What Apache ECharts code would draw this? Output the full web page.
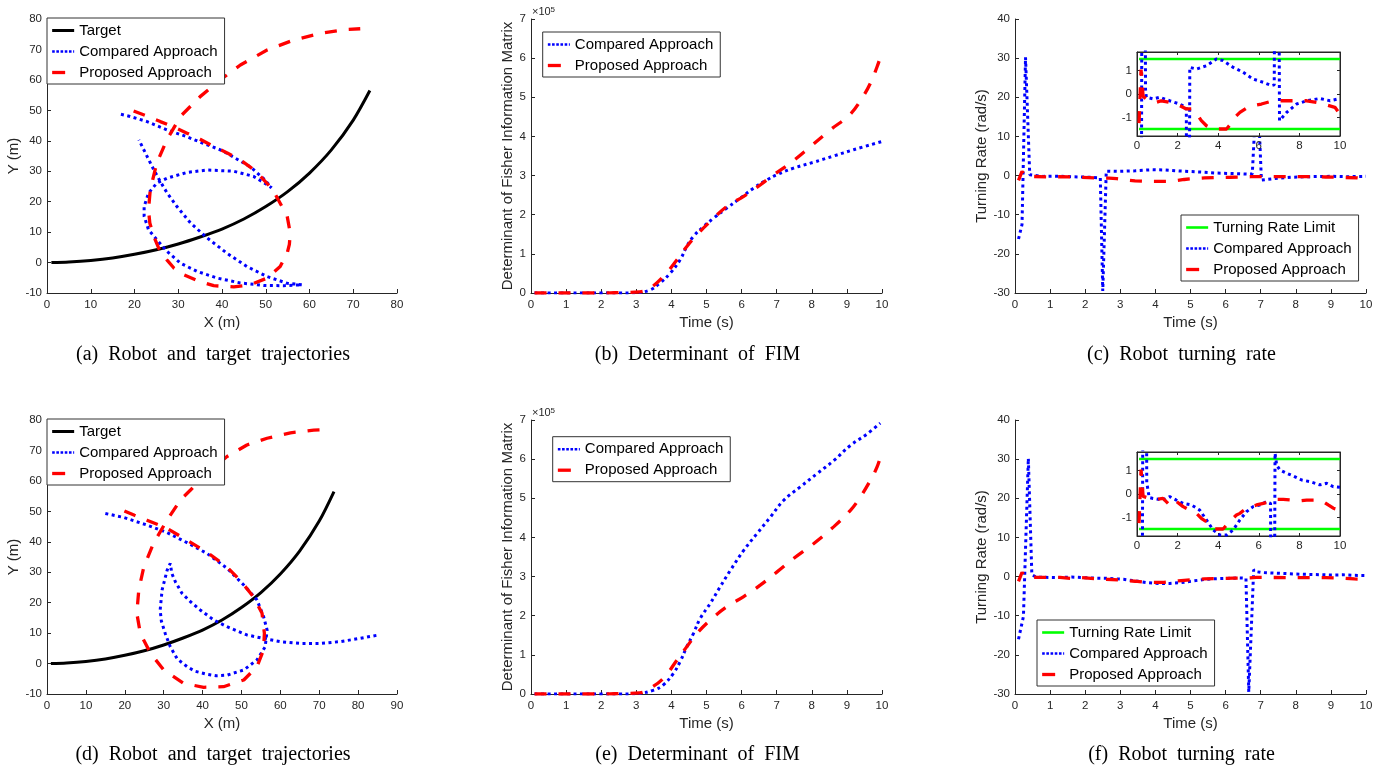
<!DOCTYPE html>
<html><head><meta charset="utf-8">
<script src="https://cdn.jsdelivr.net/npm/echarts@6/dist/echarts.min.js"></script>
<style>html,body{margin:0;padding:0;background:#fff}#c{width:1386px;height:767px}</style>
</head><body><div id="c"></div>
<script>
// ---------------- DATA ----------------
// Target trajectory (X m, Y m) - same in (a) and (d)
const targetXY = [[1,0],[5,0.2],[10,0.7],[15,1.5],[20,2.7],[25,4.2],[30,6.1],[35,8.4],[40,11],[45,14.3],[50,18.4],[55,23.3],[60,29.4],[65,37],[70,46.8],[73.8,56.5]];
// (a) trajectories
const comparedXY_A = [[16.9,48.7],[19,48],[22.9,46.3],[27.4,43.6],[32,41.3],[36,39],[40,36.8],[43,34.3],[46.5,31.4],[49.5,27.6],[51.3,24.6],
  [50.3,25.6],[47.2,28.3],[42.7,30],[36.6,30.4],[32,29.6],[27.4,27.7],[25.1,26.1],[23.2,22.8],[22.2,18.4],[22.2,15.2],[23.2,10.8],[25.1,7.5],[27.4,3.7],[30.5,-0.2],[34.3,-2.9],[38.9,-5.1],[44.2,-6.7],[49.5,-7.5],[54.1,-7.6],[58.3,-7.3],
  [54.9,-6.8],[50.3,-4.6],[45.7,-1.3],[41.1,3.1],[36.6,8.1],[32.8,13],[29.7,18.4],[27.4,23],[25.9,26.6],[24.4,30.5],[22.9,34.8],[21,40.3]];
const proposedXY_A = [[19.8,49.8],[22.5,48.3],[25.9,46.3],[29,44.5],[32,42.5],[35,40.5],[38.1,38.1],[41.2,36],[44.2,33.7],[46.7,31.1],[48.8,28.3],[50.5,25.7],[51.8,23.4],[53.7,18.4],[54.9,15.2],[55.6,9.7],[55.4,6],[54.9,3.1],[53.3,-1.3],[50.3,-5.1],[46.5,-7.3],[42.7,-8],[38.1,-7.6],[34.5,-6],[31.2,-4],[29,-1.8],[27.4,0.9],[25.6,4.5],[24.4,8.6],[23.5,13],[23.2,17.3],[23.6,23.9],[25.1,32.7],[27.4,40.3],[30.5,48],[35,54.5],[39.6,60],[44.2,64.9],[50.3,69.8],[56.4,73.1],[62.5,75.3],[68.6,76.6],[71.6,76.8]];
// (d) trajectories
const comparedXY_D = [[15,49.3],[19.7,48],[25.7,45.5],[30.9,43],[36,39.7],[41.1,36.2],[46.3,31.3],[50.6,25.8],[54,20.9],[55.7,15.4],[56.6,11],[56.1,5.5],[54,1.2],[50.6,-2.1],[46.3,-3.8],[43.5,-4],[41.1,-3.5],[38,-2.5],[36,-1],[33.5,1.5],[31.7,5.5],[30.4,9.9],[29.4,14],[29.1,17.6],[29.6,24.2],[30.9,30.7],[31.7,32.9],
  [32.1,29.6],[33,26.9],[34.7,23.1],[36.9,20.3],[39.4,17.6],[42.9,14.3],[46.3,12.1],[51.4,9.4],[56.6,8],[60,7.2],[65.1,6.6],[70.3,6.6],[75.4,7.2],[80.6,8.3],[85.3,9.4]];
const proposedXY_D = [[19.9,50.1],[22.5,48.7],[25.7,47.1],[30.9,44.4],[36,40.5],[41.1,36.6],[46.3,31.7],[49.7,27.3],[53.1,21.9],[55.3,16.5],[55.9,9.9],[55.7,4.5],[54,-1],[50.6,-5.4],[45.4,-7.6],[40.3,-7.8],[35.1,-6.5],[30,-2.1],[26.6,3.4],[24,9.9],[23.1,16.5],[23.6,24.2],[24.9,31.8],[27.4,39.5],[30.9,47.2],[34.3,53.7],[36.9,57],[41.1,62.5],[46.3,68],[51.4,71.8],[56.6,74],[62.6,75.8],[68.6,76.7],[72,76.9]];
// (b) FIM determinant (x1e5) vs time (s)
const comparedFIM_B = [[0.1,0],[0.5,0],[1,0],[1.5,0],[2,0],[2.5,0],[3,0.01],[3.4,0.08],[3.68,0.26],[3.97,0.51],[4.25,0.85],[4.44,1.19],[4.63,1.45],[4.92,1.7],[5.2,1.91],[5.58,2.17],[5.96,2.42],[6.34,2.68],[6.72,2.89],[7.0,3.02],[7.48,3.19],[8.05,3.34],[8.62,3.5],[9.19,3.66],[10,3.87]];
const proposedFIM_B = [[0.1,0],[0.5,0],[1,0],[1.5,0],[2,0],[2.5,0.01],[3.1,0.03],[3.4,0.13],[3.78,0.43],[4.16,0.85],[4.44,1.19],[4.73,1.49],[5.11,1.83],[5.58,2.21],[6.06,2.47],[6.53,2.76],[6.91,3.02],[7.39,3.32],[7.96,3.74],[8.53,4.17],[9.1,4.57],[9.48,5.05],[9.67,5.36],[9.86,5.78],[10,6.15]];
// (e) FIM determinant (x1e5)
const comparedFIM_E = [[0.1,0],[0.5,0],[1,0],[1.5,0],[2,0],[2.5,0],[3.02,0.01],[3.5,0.1],[3.78,0.24],[4.06,0.53],[4.25,0.83],[4.44,1.21],[4.63,1.55],[4.82,1.93],[5.11,2.32],[5.39,2.74],[5.68,3.16],[6.06,3.67],[6.44,4.1],[6.82,4.52],[7.2,4.95],[7.67,5.29],[8.15,5.63],[8.62,5.96],[9.1,6.35],[9.57,6.64],[9.95,6.92]];
const proposedFIM_E = [[0.1,0],[0.5,0],[1,0],[1.5,0],[2,0],[2.5,0.01],[3.1,0.03],[3.4,0.15],[3.78,0.41],[4.16,0.87],[4.44,1.21],[4.73,1.55],[5.11,1.89],[5.58,2.23],[6.06,2.49],[6.53,2.78],[7.01,3.12],[7.48,3.46],[8.05,3.84],[8.62,4.27],[9.1,4.69],[9.38,5.03],[9.67,5.46],[9.86,5.8],[10,6.18]];
// (c) turning rate (rad/s) vs time (s)
const comparedRate_C = [[0.1,-16.2],[0.2,-12.5],[0.3,30.2],[0.42,0.2],[0.46,-0.14],[0.79,-0.21],[1.12,-0.14],[1.61,-0.29],[2.1,-0.43],[2.43,-0.57],[2.5,-29.5],[2.6,1.14],[2.93,1.07],[3.42,1.21],[3.91,1.5],[4.24,1.43],[4.74,1.14],[5.23,0.93],[5.72,0.64],[6.22,0.5],[6.63,0.36],[6.76,0.39],[6.9,25],[7.02,-1.14],[7.37,-0.79],[7.86,-0.43],[8.36,-0.29],[9.01,-0.19],[9.51,-0.29],[10,-0.19]];
const proposedRate_C = [[0.1,-1.25],[0.2,1.05],[0.3,-0.1],[0.46,-0.21],[0.95,-0.36],[1.2,-0.29],[1.61,-0.36],[1.78,-0.43],[2.1,-0.5],[2.43,-0.64],[2.68,-0.64],[2.9,-0.8],[3.17,-1.14],[3.42,-1.36],[3.7,-1.48],[3.91,-1.5],[4.41,-1.5],[4.6,-1.3],[4.82,-1],[5.07,-0.79],[5.4,-0.6],[5.72,-0.5],[6.13,-0.43],[6.71,-0.29],[7.04,-0.29],[7.86,-0.29],[8.36,-0.29],[8.85,-0.36],[9.34,-0.47],[9.75,-0.57],[10,-0.86]];
// (f) turning rate
const comparedRate_F = [[0.1,-16],[0.24,-10.2],[0.38,30.2],[0.48,0.5],[0.6,-0.15],[0.79,-0.19],[1.28,-0.26],[1.61,-0.11],[1.94,-0.26],[2.27,-0.4],[2.68,-0.47],[3.09,-0.69],[3.42,-1.11],[3.75,-1.54],[4.08,-1.76],[4.41,-1.76],[4.74,-1.54],[5.07,-1.11],[5.39,-0.76],[5.72,-0.54],[6.05,-0.47],[6.38,-0.33],[6.58,-0.4],[6.66,-29.5],[6.8,1.75],[6.88,1.24],[7.04,1.03],[7.37,0.89],[7.7,0.77],[8.11,0.6],[8.52,0.53],[9.01,0.39],[9.34,0.46],[9.67,0.31],[10,0.29]];
const proposedRate_F = [[0.1,-1.25],[0.2,1.05],[0.3,-0.1],[0.62,-0.19],[0.95,-0.23],[1.28,-0.19],[1.61,-0.47],[1.86,-0.26],[2.27,-0.54],[2.6,-0.69],[2.93,-0.83],[3.17,-1.04],[3.42,-1.19],[3.75,-1.5],[4.24,-1.5],[4.65,-1.11],[4.9,-0.9],[5.07,-0.83],[5.39,-0.61],[5.89,-0.47],[6.22,-0.4],[6.63,-0.33],[6.88,-0.23],[7.2,-0.23],[8.03,-0.29],[8.36,-0.26],[8.85,-0.26],[9.18,-0.33],[9.42,-0.47],[9.67,-0.61],[10,-0.69]];
// turning rate limit
const limitTime = [0.1, 10];
const limitRate = 1.5;
// inset tick labels
const insetYTicks = [-1, 0, 1];
const captions = ['(a)  Robot  and  target  trajectories','(b)  Determinant  of  FIM','(c)  Robot  turning  rate','(d)  Robot  and  target  trajectories','(e)  Determinant  of  FIM','(f)  Robot  turning  rate'];

// ---------------- LAYOUT / STYLE ----------------
const AX = '#262626';
const FONT = 'Liberation Sans';
const G = [
  {left:47, top:19, width:350, height:274},
  {left:531, top:19, width:351, height:274},
  {left:1015, top:19, width:351, height:274},
  {left:47, top:420, width:350, height:274},
  {left:531, top:420, width:351, height:274},
  {left:1015, top:420, width:351, height:274},
  {left:1137, top:52, width:203, height:84},
  {left:1137, top:452, width:203, height:84}
];
const S_BLUE = {color:'#0000ff', width:3, type:[3,3.5], cap:'butt'};
const S_RED = {color:'#ff0000', width:3.3, type:[12,12], cap:'butt'};
const S_BLACK = {color:'#000000', width:3};
const S_GREEN = {color:'#00ff00', width:2.6};
const LEG_STYLE = {
  'Target':S_BLACK,
  'Compared Approach':{color:'#0000ff', width:2.6, type:[2.6,1.6]},
  'Proposed Approach':{color:'#ff0000', width:3.3, type:[13,20]},
  'Turning Rate Limit':S_GREEN
};

function mainX(gi, min, max, interval, name) {
  return {gridIndex:gi, type:'value', min, max, interval, name, nameLocation:'middle', nameGap:22,
    nameTextStyle:{color:AX, fontSize:15, fontFamily:FONT},
    axisLine:{show:true, onZero:false, lineStyle:{color:AX, width:1}},
    axisTick:{show:true, inside:true, length:4, lineStyle:{color:AX}},
    axisLabel:{color:AX, fontSize:11.5, fontFamily:FONT, margin:6, showMinLabel:true, showMaxLabel:true},
    splitLine:{show:false}};
}
function mainY(gi, min, max, interval, name, gap) {
  return {gridIndex:gi, type:'value', min, max, interval, name, nameLocation:'middle', nameGap:gap,
    nameTextStyle:{color:AX, fontSize:15, fontFamily:FONT},
    axisLine:{show:true, onZero:false, lineStyle:{color:AX, width:1}},
    axisTick:{show:true, inside:true, length:4, lineStyle:{color:AX}},
    axisLabel:{color:AX, fontSize:11.5, fontFamily:FONT, margin:5, showMinLabel:true, showMaxLabel:true},
    splitLine:{show:false}};
}
function insetX(gi, pos) {
  return {gridIndex:gi, type:'value', position:pos, min:0, max:10, interval:2, z:10,
    axisLine:{show:true, onZero:false, lineStyle:{color:AX, width:1}},
    axisTick:{show:true, inside:true, length:3, lineStyle:{color:AX}},
    axisLabel:{show:pos==='bottom', color:AX, fontSize:11.5, fontFamily:FONT, margin:4, showMinLabel:true, showMaxLabel:true},
    splitLine:{show:false}};
}
function insetY(gi, pos) {
  return {gridIndex:gi, type:'value', position:pos, min:-1.8, max:1.8, z:10,
    axisLine:{show:true, onZero:false, lineStyle:{color:AX, width:1}},
    axisTick:{show:true, inside:true, length:3, customValues:insetYTicks, lineStyle:{color:AX}},
    axisLabel:{show:pos==='left', color:AX, fontSize:11.5, fontFamily:FONT, margin:5, customValues:insetYTicks},
    splitLine:{show:false}};
}
function line(name, data, ai, style, z, smooth) {
  return {type:'line', name, data, xAxisIndex:ai, yAxisIndex:ai, symbol:'none', showSymbol:false,
    lineStyle:style, itemStyle:{color:style.color}, z:z||2, smooth:smooth||false,
    animation:false, silent:true, clip:true, emphasis:{disabled:true}};
}
function legend(left, top, names) {
  return {orient:'vertical', left, top, padding:[5,7,4,3.5], itemGap:6, itemWidth:22, itemHeight:14,
    backgroundColor:'#ffffff', borderColor:'#333333', borderWidth:1, borderRadius:0,
    textStyle:{color:'#000', fontSize:15, fontFamily:FONT}, selectedMode:false,
    itemStyle:{opacity:0},
    data:names.map(n => ({name:n, lineStyle:LEG_STYLE[n], itemStyle:{opacity:0}}))};
}
const limitUp = limitTime.map(t => [t, limitRate]);
const limitDown = limitTime.map(t => [t, -limitRate]);

const option = {
  animation:false,
  backgroundColor:'#ffffff',
  grid: G.map(g => Object.assign({containLabel:false, outerBoundsMode:'none'}, g)),
  xAxis: [
    mainX(0,0,80,10,'X (m)'), mainX(1,0,10,1,'Time (s)'), mainX(2,0,10,1,'Time (s)'),
    mainX(3,0,90,10,'X (m)'), mainX(4,0,10,1,'Time (s)'), mainX(5,0,10,1,'Time (s)'),
    insetX(6,'bottom'), insetX(7,'bottom'), insetX(6,'top'), insetX(7,'top')
  ],
  yAxis: [
    mainY(0,-10,80,10,'Y (m)',24), mainY(1,0,7,1,'Determinant of Fisher Information Matrix',16), mainY(2,-30,40,10,'Turning Rate (rad/s)',23),
    mainY(3,-10,80,10,'Y (m)',24), mainY(4,0,7,1,'Determinant of Fisher Information Matrix',16), mainY(5,-30,40,10,'Turning Rate (rad/s)',23),
    insetY(6,'left'), insetY(7,'left'), insetY(6,'right'), insetY(7,'right')
  ],
  legend: [
    legend(47,18,['Target','Compared Approach','Proposed Approach']),
    legend(542.7,32,['Compared Approach','Proposed Approach']),
    legend(1181,215,['Turning Rate Limit','Compared Approach','Proposed Approach']),
    legend(47,419,['Target','Compared Approach','Proposed Approach']),
    legend(552.7,436.7,['Compared Approach','Proposed Approach']),
    legend(1037,620,['Turning Rate Limit','Compared Approach','Proposed Approach'])
  ],
  series: [
    line('Target', targetXY, 0, S_BLACK, 2, 0.3),
    line('Compared Approach', comparedXY_A, 0, S_BLUE),
    line('Proposed Approach', proposedXY_A, 0, S_RED),
    line('Compared Approach', comparedFIM_B, 1, S_BLUE, 2, 0.4),
    line('Proposed Approach', proposedFIM_B, 1, S_RED, 2, 0.4),
    line('Compared Approach', comparedRate_C, 2, S_BLUE),
    line('Proposed Approach', proposedRate_C, 2, S_RED),
    line('Target', targetXY, 3, S_BLACK, 2, 0.3),
    line('Compared Approach', comparedXY_D, 3, S_BLUE),
    line('Proposed Approach', proposedXY_D, 3, S_RED),
    line('Compared Approach', comparedFIM_E, 4, S_BLUE, 2, 0.4),
    line('Proposed Approach', proposedFIM_E, 4, S_RED, 2, 0.4),
    line('Compared Approach', comparedRate_F, 5, S_BLUE),
    line('Proposed Approach', proposedRate_F, 5, S_RED),
    // insets (same data, zoomed)
    line('Turning Rate Limit', limitUp, 6, S_GREEN, 10),
    line('Turning Rate Limit', limitDown, 6, S_GREEN, 10),
    line('Compared Approach', comparedRate_C, 6, S_BLUE, 11),
    line('Proposed Approach', proposedRate_C, 6, S_RED, 12),
    line('Turning Rate Limit', limitUp, 7, S_GREEN, 10),
    line('Turning Rate Limit', limitDown, 7, S_GREEN, 10),
    line('Compared Approach', comparedRate_F, 7, S_BLUE, 11),
    line('Proposed Approach', proposedRate_F, 7, S_RED, 12)
  ],
  graphic: {elements: [
    {type:'rect', z:5, silent:true, shape:{x:G[6].left, y:G[6].top, width:G[6].width, height:G[6].height}, style:{fill:'#ffffff', stroke:AX, lineWidth:1}},
    {type:'rect', z:5, silent:true, shape:{x:G[7].left, y:G[7].top, width:G[7].width, height:G[7].height}, style:{fill:'#ffffff', stroke:AX, lineWidth:1}},
    {type:'text', x:532, y:17, style:{text:'×10', fontSize:11, fontFamily:FONT, fill:AX, verticalAlign:'bottom'}},
    {type:'text', x:550.5, y:13.5, style:{text:'5', fontSize:8, fontFamily:FONT, fill:AX, verticalAlign:'bottom'}},
    {type:'text', x:532, y:418, style:{text:'×10', fontSize:11, fontFamily:FONT, fill:AX, verticalAlign:'bottom'}},
    {type:'text', x:550.5, y:414.5, style:{text:'5', fontSize:8, fontFamily:FONT, fill:AX, verticalAlign:'bottom'}},
    ...captions.map((t, i) => ({type:'text', x:[213,697.5,1181.5][i%3], y:i<3?355:755,
      style:{text:t, fontSize:20, fontFamily:'Liberation Serif', fill:'#000', align:'center', verticalAlign:'middle'}}))
  ]}
};
const chart = echarts.init(document.getElementById('c'), null, {renderer:'canvas', width:1386, height:767});
chart.setOption(option);
</script></body></html>
